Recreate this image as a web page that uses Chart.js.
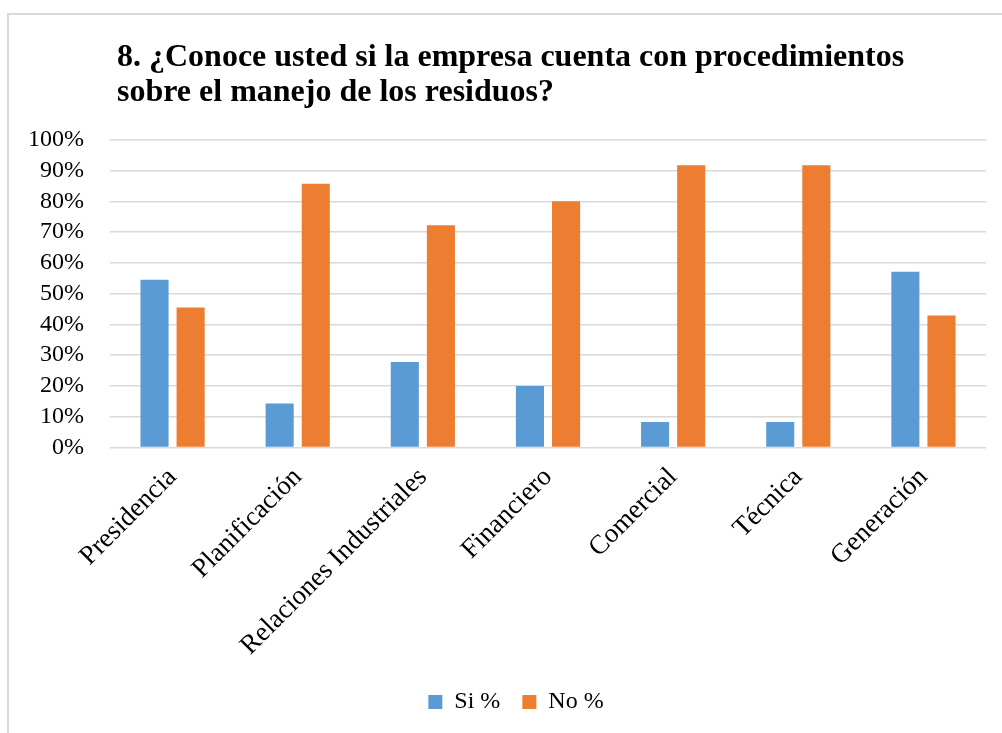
<!DOCTYPE html>
<html>
<head>
<meta charset="utf-8">
<script src="https://cdn.jsdelivr.net/npm/chart.js@4"></script>
<style>
  html, body { margin: 0; padding: 0; background: #fff; }
  .frame {
    position: absolute; left: 7px; top: 13px; right: 0; bottom: 0;
    border-left: 2px solid #d9d9d9; border-top: 2px solid #d9d9d9;
  }
  .wrap { position: absolute; left: 0; top: 0; width: 1002px; height: 733px; }
</style>
</head>
<body>
<div class="frame"></div>
<div class="wrap"><canvas id="residuosChart" width="1002" height="733"></canvas></div>
<script>
// departamentos encuestados y porcentajes de respuesta
const departamentos = ['Presidencia', 'Planificación', 'Relaciones Industriales', 'Financiero', 'Comercial', 'Técnica', 'Generación'];
const siPct = [54.5, 14.3, 27.8, 20.0, 8.3, 8.3, 57.1];
const noPct = [45.5, 85.7, 72.2, 80.0, 91.7, 91.7, 42.9];
const tituloLineas = ['8. ¿Conoce usted si la empresa cuenta con procedimientos', 'sobre el manejo de los residuos?'];

const serif = "'Liberation Serif', 'Times New Roman', serif";

// desplaza un poco el título y la leyenda hacia la derecha
const ajusteCajas = {
  id: 'ajusteCajas',
  afterLayout(chart) {
    if (chart.titleBlock) { chart.titleBlock.left += 7; chart.titleBlock.right += 7; }
    if (chart.legend) { chart.legend.left += 22; chart.legend.right += 22; }
  }
};

const ctx = document.getElementById('residuosChart').getContext('2d');
new Chart(ctx, {
  type: 'bar',
  data: {
    labels: departamentos,
    datasets: [
      { label: 'Si %', data: siPct, backgroundColor: '#5b9bd5' },
      { label: 'No %', data: noPct, backgroundColor: '#ed7d31' }
    ]
  },
  options: {
    responsive: false,
    animation: false,
    categoryPercentage: 0.577,
    barPercentage: 0.778,
    layout: { padding: { left: 2, right: 16, top: 40, bottom: 9 } },
    plugins: {
      title: {
        display: true,
        text: tituloLineas,
        align: 'start',
        fullSize: false,
        color: '#000',
        font: { family: serif, size: 32, weight: 'bold', lineHeight: 1.09 },
        padding: { top: 0, bottom: 30 }
      },
      legend: {
        position: 'bottom',
        labels: {
          color: '#000',
          font: { family: serif, size: 24 },
          boxWidth: 14,
          boxHeight: 14,
          padding: 22
        }
      },
      tooltip: { enabled: false }
    },
    scales: {
      x: {
        grid: { display: false },
        border: { display: false },
        ticks: {
          color: '#000',
          font: { family: serif, size: 27 },
          minRotation: 45,
          maxRotation: 45,
          padding: 6
        }
      },
      y: {
        min: 0,
        max: 100,
        border: { display: false },
        grid: { color: '#d9d9d9', lineWidth: 1.5, drawTicks: false },
        ticks: {
          stepSize: 10,
          autoSkip: false,
          color: '#000',
          font: { family: serif, size: 24 },
          padding: 26,
          callback: v => v + '%'
        }
      }
    }
  },
  plugins: [ajusteCajas]
});
</script>
</body>
</html>
